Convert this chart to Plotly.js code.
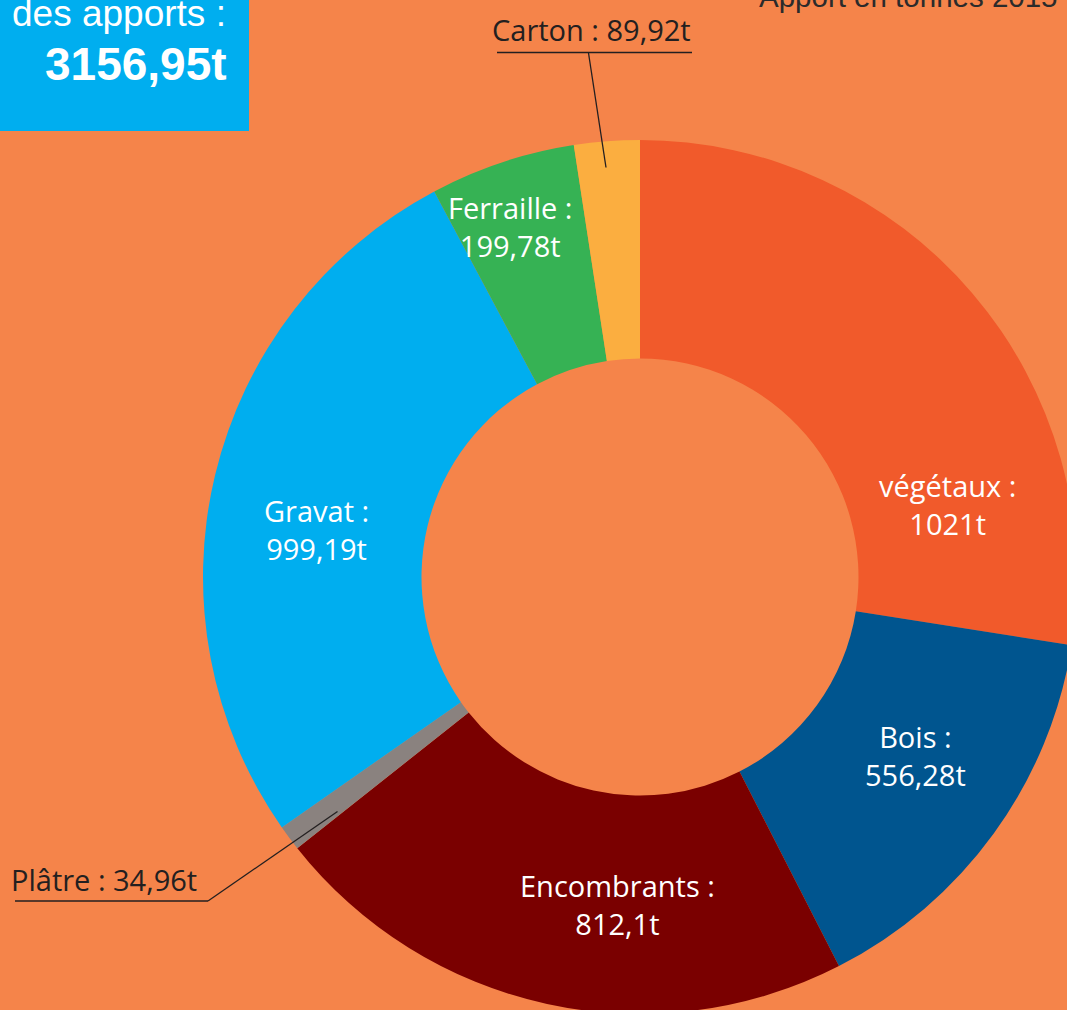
<!DOCTYPE html>
<html>
<head>
<meta charset="utf-8">
<script src="https://cdn.plot.ly/plotly-3.0.1.min.js"></script>
<style>
  html, body { margin: 0; padding: 0; overflow: hidden; background: #F5844A; }
  #chart { width: 1080px; height: 1020px; }
</style>
</head>
<body>
<div id="chart"></div>
<script>
// ---- Data ----
const categories = ['végétaux', 'Bois', 'Encombrants', 'Plâtre', 'Gravat', 'Ferraille', 'Carton'];
const tonnes = [1021, 556.28, 812.1, 34.96, 999.19, 199.78, 89.92];
const tonnesLabels = ['1021t', '556,28t', '812,1t', '34,96t', '999,19t', '199,78t', '89,92t'];
const sliceColors = ['#F15A2B', '#00558F', '#7A0000', '#8A827F', '#00AEEF', '#36B254', '#FBAE40'];
const totalLabel = '3156,95t';
const totalCaption = 'des apports :';
const chartTitle = 'Apport en tonnes 2015';

// ---- Layout helpers (pixel -> paper) ----
const W = 1080, H = 1020;
const px = x => x / W;
const py = y => 1 - y / H;

// label placement (layout only)
const labelPlacement = {
  'végétaux':    {x: 947, y: 504, inside: true},
  'Bois':        {x: 915, y: 755, inside: true},
  'Encombrants': {x: 617, y: 904, inside: true},
  'Plâtre':      {x: 104, y: 879, inside: false},
  'Gravat':      {x: 316, y: 529, inside: true},
  'Ferraille':   {x: 510, y: 226, inside: true},
  'Carton':      {x: 591, y: 29,  inside: false}
};

const labelFont = 'Open Sans, Noto Sans, sans-serif';
const annotations = categories.map((c, i) => {
  const p = labelPlacement[c];
  return {
    xref: 'paper', yref: 'paper', x: px(p.x), y: py(p.y),
    xanchor: 'center', yanchor: 'middle', showarrow: false,
    text: p.inside ? (c + ' :<br>' + tonnesLabels[i]) : (c + ' : ' + tonnesLabels[i]),
    font: {family: labelFont, size: 29, color: p.inside ? '#FFFFFF' : '#231F20'}
  };
});

annotations.push({
  xref: 'paper', yref: 'paper', x: px(228), y: py(14),
  xanchor: 'right', yanchor: 'middle', showarrow: false,
  text: totalCaption,
  font: {family: 'Liberation Sans, Arial, sans-serif', size: 37, color: '#FFFFFF'}
});
annotations.push({
  xref: 'paper', yref: 'paper', x: px(229), y: py(64),
  xanchor: 'right', yanchor: 'middle', showarrow: false,
  text: '<b>' + totalLabel + '</b>',
  font: {family: 'Liberation Sans, Arial, sans-serif', size: 46, color: '#FFFFFF'}
});
annotations.push({
  xref: 'paper', yref: 'paper', x: px(1060), y: py(-4),
  xanchor: 'right', yanchor: 'middle', showarrow: false,
  text: chartTitle,
  font: {family: 'Liberation Sans, Arial, sans-serif', size: 29.5, color: '#2B2B2B'}
});

const lineStyle = {color: '#231F20', width: 1.3};
const shapes = [
  {type: 'rect', xref: 'paper', yref: 'paper', x0: px(-5), x1: px(249), y0: py(-5), y1: py(131),
   fillcolor: '#00AEEF', line: {width: 0}, layer: 'below'},
  // Carton leader
  {type: 'line', xref: 'paper', yref: 'paper', x0: px(497), x1: px(692), y0: py(52.5), y1: py(52.5), line: lineStyle},
  {type: 'line', xref: 'paper', yref: 'paper', x0: px(588.5), x1: px(606), y0: py(53), y1: py(167.5), line: lineStyle},
  // Plâtre leader
  {type: 'line', xref: 'paper', yref: 'paper', x0: px(15), x1: px(208), y0: py(901), y1: py(901), line: lineStyle},
  {type: 'line', xref: 'paper', yref: 'paper', x0: px(208), x1: px(337.5), y0: py(901), y1: py(811.5), line: lineStyle}
];

const trace = {
  type: 'pie',
  labels: categories,
  values: tonnes,
  marker: {colors: sliceColors, line: {width: 0}},
  hole: 0.5,
  sort: false,
  direction: 'clockwise',
  rotation: 0,
  textinfo: 'none',
  hoverinfo: 'skip',
  showlegend: false,
  domain: {x: [px(203), px(1077)], y: [py(1014), py(140)]}
};

const layout = {
  width: W, height: H,
  margin: {l: 0, r: 0, t: 0, b: 0},
  paper_bgcolor: '#F5844A',
  plot_bgcolor: '#F5844A',
  showlegend: false,
  annotations: annotations,
  shapes: shapes
};

Plotly.newPlot('chart', [trace], layout, {displayModeBar: false, staticPlot: true});
</script>
</body>
</html>
